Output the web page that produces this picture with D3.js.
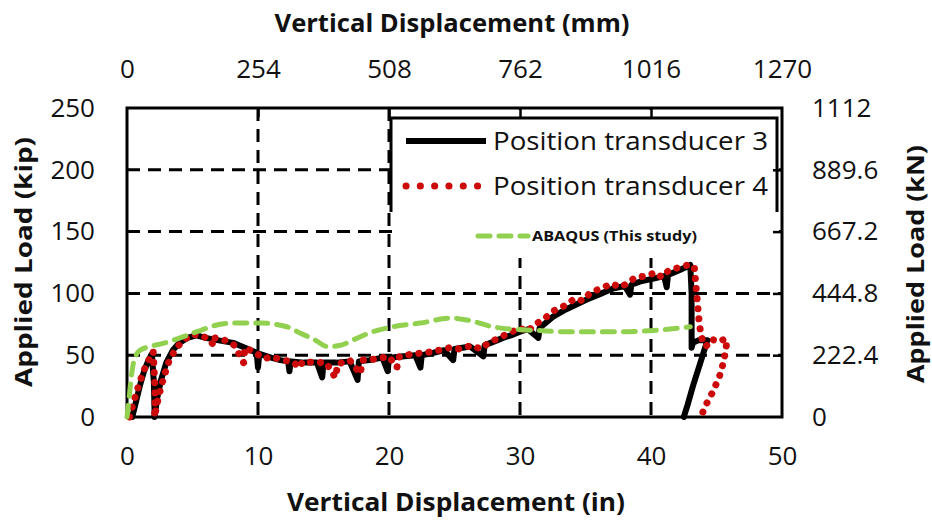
<!DOCTYPE html>
<html>
<head>
<meta charset="utf-8">
<script src="https://cdn.jsdelivr.net/npm/d3@7"></script>
<style>
  html, body { margin: 0; padding: 0; background: #fff; }
  svg { display: block; }
  text { font-family: "Open Sans", "Noto Sans", sans-serif; fill: #111; }
</style>
</head>
<body>
<svg id="chart" width="932" height="520"></svg>
<script>
// Axis ticks
const xTicksIn = [0, 10, 20, 30, 40, 50];
const xTicksMm = [0, 254, 508, 762, 1016, 1270];
const yTicksKip = [0, 50, 100, 150, 200, 250];
const yTicksKN = [0, 222.4, 444.8, 667.2, 889.6, 1112];

// Position transducer 3 (in, kip)
const pt3Disp = [0.4, 0.7, 1.0, 1.3, 1.6, 1.9, 2.05, 2.1, 2.1, 2.3, 2.6, 3.0, 3.5, 4.0, 4.6, 5.3,
  6.0, 7.0, 8.1, 9.0, 9.9, 10.0, 10.1, 11.0, 11.7, 12.3, 12.4, 12.5, 13.5, 14.5, 14.9, 15.0,
  16.0, 17.0, 17.6, 17.7, 18.5, 19.5, 19.9, 20.0, 21.0, 22.0, 22.4, 22.5, 23.4, 24.2, 24.9, 25.0,
  26.2, 27.2, 27.3, 28.0, 28.7, 29.3, 30.0, 30.6, 31.4, 31.5, 32.5, 33.5, 34.3, 35.1, 36.0, 37.1,
  38.0, 38.4, 38.5, 39.3, 40.2, 41.0, 41.2, 41.3, 42.2, 43.0, 43.1, 43.1, 43.1, 43.2, 43.6, 44.3,
  43.8, 43.2, 42.8, 42.5];
const pt3Load = [0, 13, 26, 37, 45, 51, 28, 6, 0, 15, 30, 44, 54, 60, 64, 66,
  64, 62, 60, 56, 52, 40, 51, 48, 46, 45, 37, 45, 44, 44, 32, 44,
  44, 45, 30, 45, 46, 48, 37, 48, 49, 50, 40, 50, 52, 54, 46, 55,
  57, 49, 58, 61, 64, 66, 69, 71, 64, 72, 81, 87, 91, 95, 99, 104,
  106, 99, 107, 110, 112, 114, 105, 115, 119, 123, 100, 80, 56, 60, 62, 62,
  45, 25, 10, 0];

// Position transducer 4 (in, kip)
const pt4Disp = [0.2, 0.5, 0.9, 1.3, 1.7, 2.0, 2.1, 2.15, 2.1, 2.4, 2.8, 3.2, 3.7, 4.3, 5.0, 5.6,
  6.3, 6.6, 6.7, 7.5, 8.2, 8.9, 9.0, 9.8, 10.5, 11.0, 11.8, 12.6, 13.2, 13.4, 14.3, 15.2,
  15.9, 16.1, 17.0, 17.8, 18.0, 19.0, 20.0, 20.6, 20.8, 21.8, 22.8, 23.8, 24.6, 25.4, 26.3, 27.0,
  27.6, 28.4, 29.2, 30.0, 30.6, 31.0, 31.8, 32.6, 33.4, 34.2, 34.8, 35.4, 36.2, 37.0, 37.6, 38.2,
  38.8, 39.6, 40.4, 40.8, 41.4, 42.2, 42.8, 43.3, 43.4, 43.5, 43.6, 43.7, 43.9, 44.2, 44.6, 45.2,
  45.6, 45.8, 45.7, 45.5, 45.2, 44.7, 44.2, 43.8];
const pt4Load = [0, 12, 26, 38, 47, 53, 32, 15, 0, 16, 32, 45, 55, 62, 67, 66,
  63, 58, 64, 62, 58, 44, 56, 52, 47, 49, 46, 45, 40, 45, 44, 44,
  32, 43, 46, 35, 46, 47, 49, 40, 49, 51, 52, 54, 56, 55, 58, 55,
  60, 64, 68, 72, 69, 74, 79, 86, 90, 96, 94, 101, 104, 108, 105, 108,
  113, 114, 117, 113, 119, 121, 123, 122, 110, 98, 86, 74, 63, 57, 63, 61,
  63, 62, 53, 43, 32, 20, 10, 0];

// ABAQUS model (in, kip)
const abaqusDisp = [0, 0.15, 0.3, 0.46, 0.7, 1.0, 1.75, 2.9, 4.3, 5.6, 6.7, 8.2, 10.2, 12.2, 13.2,
  14.4, 15.3, 16.3, 17.4, 18.5, 20.3, 22.4, 24.7, 26.2, 27.9, 29.5, 31.3, 33.3, 35.3, 37.6, 40.2, 43.0];
const abaqusLoad = [0, 14, 30, 42, 50, 54, 57, 60, 65, 70, 74, 76, 76, 73, 68,
  62, 57, 58, 63, 68, 73, 76, 80, 78, 73, 71, 70, 69, 69, 69, 70, 73];

const svg = d3.select("#chart");
const plotL = 127, plotR = 782, plotT = 108, plotB = 417;

const x = d3.scaleLinear().domain([0, 50]).range([plotL, plotR]);
const xMm = d3.scaleLinear().domain([0, 1270]).range([plotL, plotR]);
const y = d3.scaleLinear().domain([0, 250]).range([plotB, plotT]);
const yKN = d3.scaleLinear().domain([0, 1112]).range([plotB, plotT]);

// Dashed grid
const grid = svg.append("g").attr("stroke", "#000").attr("stroke-width", 3)
  .attr("stroke-dasharray", "13 8");
grid.selectAll("line.v").data(xTicksIn.slice(1, -1)).join("line").attr("class", "v")
  .attr("x1", d => x(d)).attr("x2", d => x(d)).attr("y1", plotT).attr("y2", plotB);
grid.selectAll("line.h").data(yTicksKip.slice(1, -1)).join("line").attr("class", "h")
  .attr("x1", plotL).attr("x2", plotR).attr("y1", d => y(d)).attr("y2", d => y(d));

// Legend panel (covers the grid behind it)
const panel = svg.append("g");
panel.append("rect").attr("x", 392).attr("y", 110).attr("width", 387).attr("height", 148).attr("fill", "#fff");
panel.append("path").attr("d", "M391,212 V118 H777 V212").attr("fill", "none")
  .attr("stroke", "#000").attr("stroke-width", 3);

// Frame
svg.append("rect").attr("x", plotL).attr("y", plotT).attr("width", plotR - plotL).attr("height", plotB - plotT)
  .attr("fill", "none").attr("stroke", "#000").attr("stroke-width", 3);

// Axes
const fs = 26;
const plain = d => String(d);
const topAxis = svg.append("g").attr("transform", `translate(0,${plotT})`)
  .call(d3.axisTop(xMm).tickValues(xTicksMm).tickFormat(plain).tickSizeInner(-9).tickSizeOuter(0).tickPadding(30));
const botAxis = svg.append("g").attr("transform", `translate(0,${plotB})`)
  .call(d3.axisBottom(x).tickValues(xTicksIn).tickFormat(plain).tickSize(0).tickPadding(30));
const leftAxis = svg.append("g").attr("transform", `translate(${plotL},0)`)
  .call(d3.axisLeft(y).tickValues(yTicksKip).tickFormat(plain).tickSize(0).tickPadding(32));
const rightAxis = svg.append("g").attr("transform", `translate(${plotR},0)`)
  .call(d3.axisRight(yKN).tickValues(yTicksKN).tickFormat(plain).tickSizeInner(-9).tickSizeOuter(0).tickPadding(30));

[topAxis, botAxis, leftAxis, rightAxis].forEach(a => {
  a.select(".domain").remove();
  a.selectAll(".tick line").attr("stroke", "#000").attr("stroke-width", 2.5);
  a.selectAll(".tick text").attr("font-size", fs).attr("font-family", "'Open Sans', sans-serif").attr("fill", "#111");
});
topAxis.selectAll(".tick line").filter(d => d === 0 || d === 1270).remove();
rightAxis.selectAll(".tick line").filter(d => d === 0 || d === 1112).remove();

// Axis titles
svg.append("text").attr("x", 452).attr("y", 32).attr("text-anchor", "middle")
  .attr("font-size", 25).attr("font-weight", "bold").attr("textLength", 355).attr("lengthAdjust", "spacingAndGlyphs")
  .text("Vertical Displacement (mm)");
svg.append("text").attr("x", 456).attr("y", 511).attr("text-anchor", "middle")
  .attr("font-size", 25).attr("font-weight", "bold").attr("textLength", 338).attr("lengthAdjust", "spacingAndGlyphs")
  .text("Vertical Displacement (in)");
svg.append("text").attr("transform", "translate(32,262) rotate(-90)").attr("text-anchor", "middle")
  .attr("font-size", 24).attr("font-weight", "bold").attr("textLength", 250).attr("lengthAdjust", "spacingAndGlyphs")
  .text("Applied Load (kip)");
svg.append("text").attr("transform", "translate(924,264) rotate(-90)").attr("text-anchor", "middle")
  .attr("font-size", 24).attr("font-weight", "bold").attr("textLength", 238).attr("lengthAdjust", "spacingAndGlyphs")
  .text("Applied Load (kN)");

// Curves
const line = d3.line().x(d => x(d[0])).y(d => y(d[1]));
const pt3 = d3.zip(pt3Disp, pt3Load);
const pt4 = d3.zip(pt4Disp, pt4Load);
const abaqus = d3.zip(abaqusDisp, abaqusLoad);

svg.append("path").datum(pt3).attr("d", line).attr("fill", "none")
  .attr("stroke", "#000").attr("stroke-width", 6).attr("stroke-linejoin", "round").attr("stroke-linecap", "round");
svg.append("path").datum(pt4).attr("d", line).attr("fill", "none")
  .attr("stroke", "#cc0a0a").attr("stroke-width", 7).attr("stroke-dasharray", "0.1 10")
  .attr("stroke-linecap", "round");
svg.append("path").datum(abaqus).attr("d", d3.line().x(d => x(d[0])).y(d => y(d[1])).curve(d3.curveMonotoneX))
  .attr("fill", "none")
  .attr("stroke", "#92d050").attr("stroke-width", 5).attr("stroke-dasharray", "12 9")
  .attr("stroke-linecap", "round");

// Legend entries
const lg = svg.append("g");
lg.append("line").attr("x1", 406).attr("x2", 486).attr("y1", 141).attr("y2", 141)
  .attr("stroke", "#000").attr("stroke-width", 6);
lg.append("text").attr("x", 493).attr("y", 150).attr("font-size", 25)
  .attr("textLength", 275).attr("lengthAdjust", "spacingAndGlyphs").text("Position transducer 3");
lg.append("line").attr("x1", 406).attr("x2", 478).attr("y1", 186).attr("y2", 186)
  .attr("stroke", "#cc0a0a").attr("stroke-width", 7).attr("stroke-dasharray", "0.1 14.2").attr("stroke-linecap", "round");
lg.append("text").attr("x", 493).attr("y", 195).attr("font-size", 25)
  .attr("textLength", 275).attr("lengthAdjust", "spacingAndGlyphs").text("Position transducer 4");
lg.append("line").attr("x1", 478).attr("x2", 528).attr("y1", 236).attr("y2", 236)
  .attr("stroke", "#92d050").attr("stroke-width", 5).attr("stroke-dasharray", "12 9").attr("stroke-linecap", "round");
lg.append("text").attr("x", 532).attr("y", 241).attr("font-size", 14).attr("font-weight", "bold")
  .attr("textLength", 165).attr("lengthAdjust", "spacingAndGlyphs").text("ABAQUS (This study)");
</script>
</body>
</html>
